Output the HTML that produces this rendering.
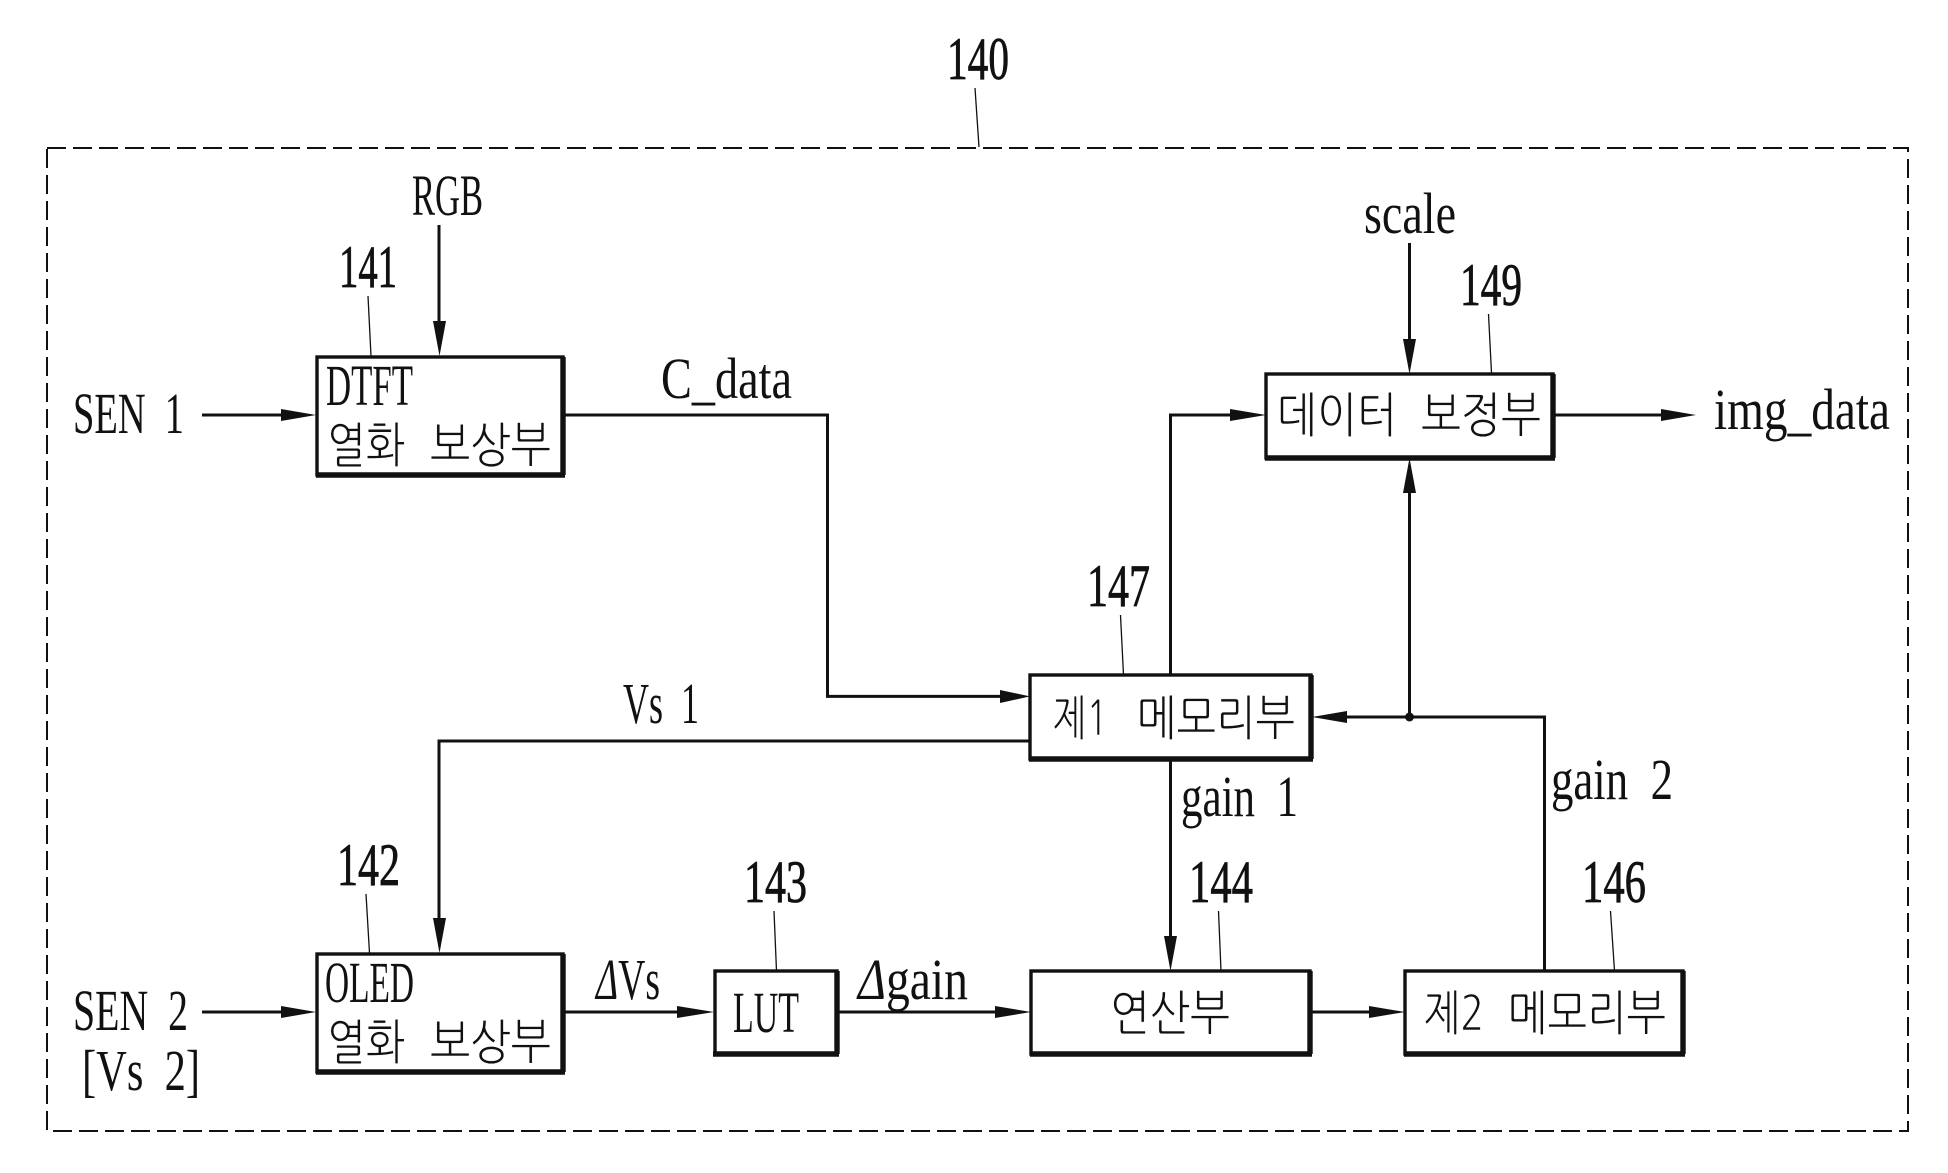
<!DOCTYPE html>
<html><head><meta charset="utf-8">
<style>
html,body{margin:0;padding:0;background:#fff}
svg{display:block}
text{fill:#111;white-space:pre}
.s{font-family:"Liberation Serif",serif}
.n{font-family:"Liberation Serif",serif;stroke:#111;stroke-width:.8px}
.k{font-family:"NanumGothic","Noto Sans CJK KR",sans-serif;stroke:#fff;stroke-width:.45px}
</style></head>
<body>
<svg xmlns="http://www.w3.org/2000/svg" width="1948" height="1173" viewBox="0 0 1948 1173">
<rect x="47" y="148" width="1861" height="983" fill="none" stroke="#111" stroke-width="2" stroke-dasharray="19 7"/>
<g fill="#fff" stroke="#111" stroke-width="3.400">
<rect x="317" y="357" width="246" height="118"/>
<rect x="317" y="954" width="246" height="118"/>
<rect x="715" y="971" width="122" height="83"/>
<rect x="1031" y="971" width="279" height="83"/>
<rect x="1405" y="971" width="278" height="83"/>
<rect x="1030" y="675" width="281" height="84"/>
<rect x="1266" y="374" width="287" height="84"/>
</g>
<g stroke="#111" stroke-width="5.400" fill="none">
<path d="M316 475H565M563 357V475M316 1072H565M563 954V1072M713 1054H839M837 971V1054M1030 1054H1312M1310 971V1054M1404 1054H1685M1683 971V1054M1029 759H1313M1311 675V759M1265 458H1555M1553 374V458"/>
</g>
<g stroke="#111" stroke-width="3" fill="none">
<path d="M202 415H290M439 225V330M563 415H827.5V696.4H1005M1030 741H439V925M202 1012H290M563 1012H685M837 1012H1005M1310 1012H1380M1170.5 759V945M1170.5 675V415H1240M1409.5 243V345M1409.5 717V485M1544.5 971V717H1340M1553 415H1670"/>
</g>
<g fill="#111">
<polygon points="281,409 316,415 281,421"/>
<polygon points="433,321 439.500,356 446,321"/>
<polygon points="1000,690 1030,696.400 1000,703"/>
<polygon points="433,918 439.500,953 446,918"/>
<polygon points="281,1006 316,1012 281,1018"/>
<polygon points="677,1006 714,1012 677,1018"/>
<polygon points="995,1006 1031,1012 995,1018"/>
<polygon points="1369,1006 1405,1012 1369,1018"/>
<polygon points="1164,936 1170.500,971 1177,936"/>
<polygon points="1230,409 1266,415 1230,421"/>
<polygon points="1403,339 1409.500,374 1416,339"/>
<polygon points="1403,493 1409.500,458 1416,493"/>
<polygon points="1347,711 1312,717 1347,723"/>
<polygon points="1661,409 1696,415 1661,421"/>
<circle cx="1409.500" cy="717" r="4.500"/>
</g>
<g stroke="#111" stroke-width="1.300" fill="none">
<path d="M975 88L979 147M368 296L371 356M1488.500 314L1491.500 373M1120.500 615L1122 645L1123.500 675M366 894L369.500 953M774 911L776.500 971M1218.500 911L1221 971M1610.500 911L1614.500 971"/>
</g>
<g class="n" font-size="60">
<text x="947" y="79" textLength="62" lengthAdjust="spacingAndGlyphs">140</text>
<text x="339" y="287" textLength="58" lengthAdjust="spacingAndGlyphs">141</text>
<text x="1460" y="305" textLength="62" lengthAdjust="spacingAndGlyphs">149</text>
<text x="1087" y="606" textLength="63" lengthAdjust="spacingAndGlyphs">147</text>
<text x="337" y="885" textLength="63" lengthAdjust="spacingAndGlyphs">142</text>
<text x="744" y="902" textLength="63" lengthAdjust="spacingAndGlyphs">143</text>
<text x="1189" y="902" textLength="64" lengthAdjust="spacingAndGlyphs">144</text>
<text x="1582" y="902" textLength="64" lengthAdjust="spacingAndGlyphs">146</text>
</g>
<g class="s" font-size="58">
<text x="412" y="215" textLength="71" lengthAdjust="spacingAndGlyphs">RGB</text>
<text x="73" y="433" textLength="111" lengthAdjust="spacingAndGlyphs">SEN  1</text>
<text x="326" y="405" textLength="87" lengthAdjust="spacingAndGlyphs">DTFT</text>
<text x="661" y="398" textLength="131" lengthAdjust="spacingAndGlyphs">C_data</text>
<text x="1364" y="233" textLength="92" lengthAdjust="spacingAndGlyphs">scale</text>
<text x="1714" y="429" textLength="176" lengthAdjust="spacingAndGlyphs">img_data</text>
<text x="623" y="723" textLength="76" lengthAdjust="spacingAndGlyphs">Vs  1</text>
<text x="1181" y="816" textLength="117" lengthAdjust="spacingAndGlyphs">gain  1</text>
<text x="1551" y="799" textLength="122" lengthAdjust="spacingAndGlyphs">gain  2</text>
<text x="73" y="1030" textLength="115" lengthAdjust="spacingAndGlyphs">SEN  2</text>
<text x="82" y="1090" textLength="118" lengthAdjust="spacingAndGlyphs">[Vs  2]</text>
<text x="325" y="1002" textLength="89" lengthAdjust="spacingAndGlyphs">OLED</text>
<text x="596" y="999" textLength="64" lengthAdjust="spacingAndGlyphs"><tspan font-style="italic">Δ</tspan>Vs</text>
<text x="733" y="1032" textLength="66" lengthAdjust="spacingAndGlyphs">LUT</text>
<text x="858" y="999" textLength="110" lengthAdjust="spacingAndGlyphs"><tspan font-style="italic">Δ</tspan>gain</text>
</g>
<g class="k" font-size="48">
<text x="327" y="462" textLength="78" lengthAdjust="spacingAndGlyphs">열화</text>
<text x="430" y="462" textLength="121" lengthAdjust="spacingAndGlyphs">보상부</text>
<text x="327" y="1059" textLength="78" lengthAdjust="spacingAndGlyphs">열화</text>
<text x="430" y="1059" textLength="121" lengthAdjust="spacingAndGlyphs">보상부</text>
<text x="1277" y="432" textLength="120" lengthAdjust="spacingAndGlyphs">데이터</text>
<text x="1421" y="432" textLength="120" lengthAdjust="spacingAndGlyphs">보정부</text>
<text x="1053" y="735" textLength="55" lengthAdjust="spacingAndGlyphs">제1</text>
<text x="1137" y="735" textLength="158" lengthAdjust="spacingAndGlyphs">메모리부</text>
<text x="1110" y="1030" textLength="120" lengthAdjust="spacingAndGlyphs">연산부</text>
<text x="1424" y="1030" textLength="60" lengthAdjust="spacingAndGlyphs">제2</text>
<text x="1508" y="1030" textLength="158" lengthAdjust="spacingAndGlyphs">메모리부</text>
</g>
</svg>
</body></html>
